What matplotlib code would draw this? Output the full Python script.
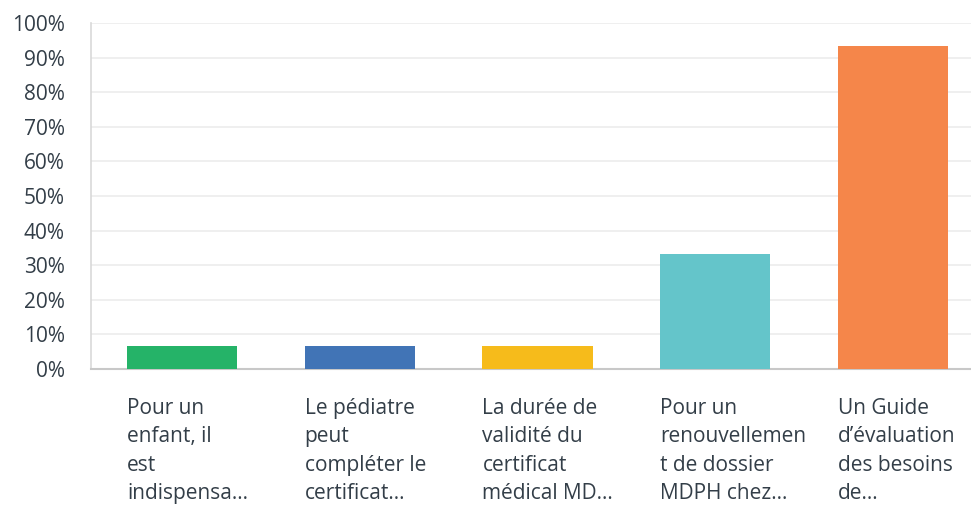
import matplotlib
matplotlib.use("Agg")
import matplotlib.pyplot as plt
from matplotlib.transforms import blended_transform_factory

categories = [
    "Pour un\nenfant, il\nest\nindispensa…",
    "Le pédiatre\npeut\ncompléter le\ncertificat…",
    "La durée de\nvalidité du\ncertificat\nmédical MD…",
    "Pour un\nrenouvellemen\nt de dossier\nMDPH chez…",
    "Un Guide\nd’évaluation\ndes besoins\nde…",
]
values = [6.67, 6.67, 6.67, 33.33, 93.33]
colors = ["#25b368", "#4174b6", "#f6bb1b", "#64c5ca", "#f5864a"]
yticks = [0, 10, 20, 30, 40, 50, 60, 70, 80, 90, 100]
ytick_labels = [f"{t}%" for t in yticks]

plt.rcParams['font.family'] = ['Open Sans', 'DejaVu Sans']
text_color = "#333e48"

fig = plt.figure(figsize=(9.71, 5.05), dpi=100)
ax = fig.add_axes([91/971, (505-369)/505, 1 - 91/971, (369-23)/505])

x = list(range(len(values)))
width = 0.62
ax.bar(x, values, width=width, color=colors, zorder=3)

ax.set_xlim(-0.512, 4.439)
ax.set_ylim(0, 100)
ax.set_yticks(yticks)
ax.set_yticklabels(ytick_labels, fontsize=15, color=text_color)
ax.set_xticks([])
ax.grid(axis='y', color="#ececec", linewidth=1.2, zorder=0)
ax.tick_params(axis='y', length=0, pad=19)

for s in ['top', 'right']:
    ax.spines[s].set_visible(False)
ax.spines['left'].set_color("#d9d9d9")
ax.spines['bottom'].set_color("#c8c8c8")
ax.spines['left'].set_linewidth(1.2)
ax.spines['bottom'].set_linewidth(1.5)

trans = blended_transform_factory(ax.transData, ax.transAxes)
for i, lab in enumerate(categories):
    ax.text(i - width / 2, -0.084, lab, transform=trans, ha='left', va='top',
            fontsize=15, color=text_color, linespacing=1.46)

fig.savefig("out.png", dpi=100)
